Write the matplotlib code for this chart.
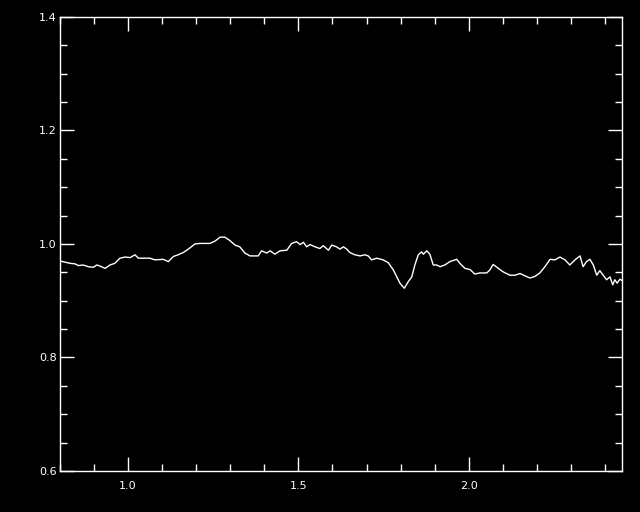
import numpy as np
import matplotlib
matplotlib.use('Agg')
import matplotlib.pyplot as plt
from matplotlib.ticker import MultipleLocator

# Valori (lunghezza d'onda, flusso normalizzato)
wave = [0.800, 0.815, 0.829, 0.844, 0.854, 0.868, 0.883, 0.898, 0.908, 0.922,
        0.932, 0.947, 0.961, 0.976, 0.991, 1.006, 1.020, 1.030, 1.050, 1.064,
        1.079, 1.103, 1.118, 1.133, 1.147, 1.162, 1.177, 1.196, 1.211, 1.240,
        1.255, 1.270, 1.284, 1.299, 1.314, 1.328, 1.343, 1.358, 1.382, 1.392,
        1.407, 1.417, 1.431, 1.446, 1.466, 1.480, 1.495, 1.505, 1.515, 1.524,
        1.534, 1.549, 1.563, 1.573, 1.588, 1.598, 1.612, 1.622, 1.632, 1.642,
        1.651, 1.666, 1.681, 1.695, 1.705, 1.715, 1.730, 1.749, 1.764, 1.779,
        1.789, 1.798, 1.811, 1.823, 1.833, 1.842, 1.852, 1.862, 1.867, 1.877,
        1.886, 1.896, 1.906, 1.916, 1.930, 1.945, 1.955, 1.965, 1.974, 1.989,
        2.004, 2.018, 2.033, 2.053, 2.062, 2.072, 2.087, 2.101, 2.121, 2.136,
        2.151, 2.165, 2.180, 2.195, 2.209, 2.224, 2.239, 2.253, 2.268, 2.283,
        2.297, 2.312, 2.327, 2.336, 2.346, 2.356, 2.366, 2.376, 2.385, 2.395,
        2.405, 2.415, 2.423, 2.429, 2.436, 2.444, 2.452]
flux = [0.970, 0.968, 0.966, 0.965, 0.962, 0.963, 0.960, 0.959, 0.963, 0.960,
        0.957, 0.963, 0.966, 0.975, 0.977, 0.976, 0.981, 0.975, 0.975, 0.975,
        0.972, 0.973, 0.969, 0.978, 0.981, 0.985, 0.991, 1.000, 1.001, 1.001,
        1.005, 1.012, 1.012, 1.006, 0.998, 0.995, 0.984, 0.979, 0.979, 0.988,
        0.984, 0.988, 0.982, 0.988, 0.989, 1.001, 1.004, 0.999, 1.003, 0.995,
        0.999, 0.995, 0.992, 0.997, 0.989, 0.998, 0.995, 0.991, 0.995, 0.991,
        0.985, 0.981, 0.979, 0.981, 0.979, 0.972, 0.975, 0.972, 0.967, 0.954,
        0.942, 0.931, 0.922, 0.934, 0.942, 0.963, 0.981, 0.986, 0.982, 0.988,
        0.982, 0.963, 0.963, 0.960, 0.963, 0.969, 0.971, 0.973, 0.966, 0.957,
        0.955, 0.947, 0.949, 0.949, 0.954, 0.964, 0.957, 0.951, 0.945, 0.945,
        0.948, 0.944, 0.940, 0.943, 0.949, 0.960, 0.973, 0.972, 0.977, 0.972,
        0.963, 0.972, 0.979, 0.960, 0.969, 0.973, 0.963, 0.945, 0.953, 0.945,
        0.937, 0.942, 0.928, 0.937, 0.931, 0.938, 0.935]

fig = plt.figure(figsize=(6.4, 5.12), dpi=100, facecolor='black')
ax = fig.add_axes([0.09375, 0.0801, 0.878, 0.8867], facecolor='black')

ax.plot(wave, flux, color='white', linewidth=1.0)

ax.set_xlim(0.8, 2.45)
ax.set_ylim(0.6, 1.4)
ax.xaxis.set_major_locator(MultipleLocator(0.5))
ax.xaxis.set_minor_locator(MultipleLocator(0.1))
ax.yaxis.set_major_locator(MultipleLocator(0.2))
ax.yaxis.set_minor_locator(MultipleLocator(0.05))
ax.xaxis.set_major_formatter(plt.FormatStrFormatter('%.1f'))
ax.yaxis.set_major_formatter(plt.FormatStrFormatter('%.1f'))

for s in ax.spines.values():
    s.set_color('white')
    s.set_linewidth(1.0)
ax.tick_params(which='both', direction='in', colors='white', top=True, right=True,
               labelsize=8, width=1.0)
ax.tick_params(which='major', length=10)
ax.tick_params(which='minor', length=5)
ax.tick_params(axis='x', which='major', pad=7)
ax.tick_params(axis='y', which='major', pad=2.5)

fig.savefig('out.png', dpi=100, facecolor='black')
